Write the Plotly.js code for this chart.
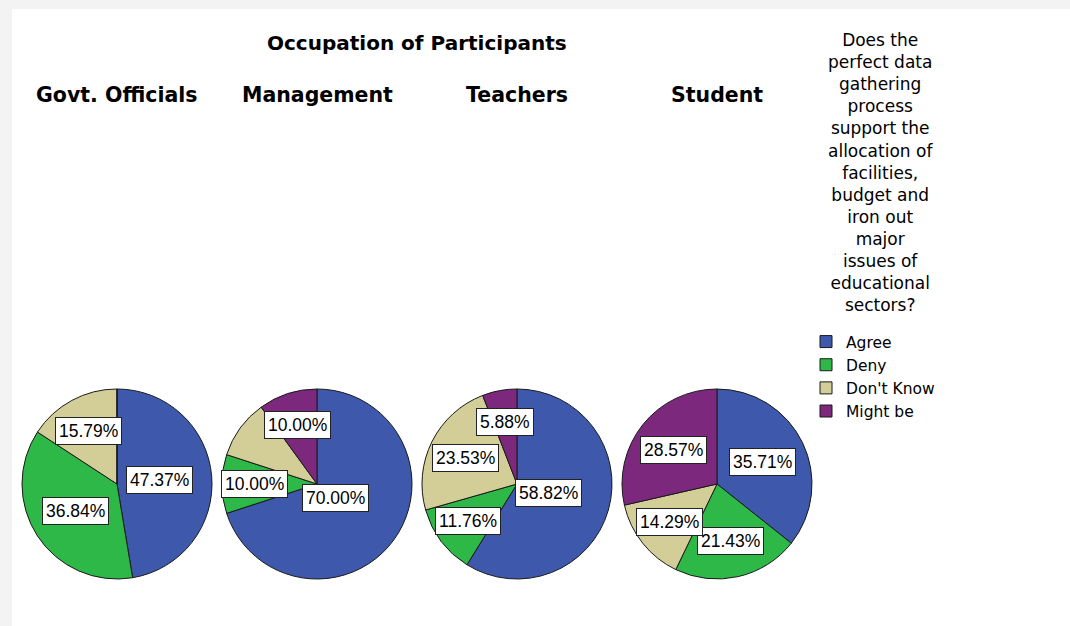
<!DOCTYPE html>
<html>
<head>
<meta charset="utf-8">
<script src="https://cdn.plot.ly/plotly-3.0.1.min.js"></script>
<style>
  html, body { margin:0; padding:0; background:#fff; }
  #chart { width:1070px; height:626px; }
</style>
</head>
<body>
<div id="chart"></div>
<script>
// answers (legend order) and groups
const answers = ['Agree', 'Deny', "Don't Know", 'Might be'];
const groups = ['Govt. Officials', 'Management', 'Teachers', 'Student'];
// percentages per group, in answer order
const govtVals = [47.37, 36.84, 15.79, 0];
const mgmtVals = [70.00, 10.00, 10.00, 10.00];
const teachVals = [58.82, 11.76, 23.53, 5.88];
const studVals = [35.71, 21.43, 14.29, 28.57];
const groupVals = [govtVals, mgmtVals, teachVals, studVals];
// labels SPSS dropped (overlap)
const hiddenLabels = { 1: [2] };

const colors = ['#3e58ac', '#2eb848', '#d3ce97', '#7c287d'];
const W = 1070, H = 626;
const centersX = [117, 317, 517, 717], centerY = 484, R = 95;
const legendTitle = 'Does the<br>perfect data<br>gathering<br>process<br>support the<br>allocation of<br>facilities,<br>budget and<br>iron out<br>major<br>issues of<br>educational<br>sectors?';

const traces = [];
const annotations = [];

groupVals.forEach(function(vals, g){
  const cx = centersX[g];
  traces.push({
    type: 'pie', labels: answers, values: vals, sort: false, direction: 'clockwise', rotation: 0,
    marker: { colors: colors, line: { color: '#1a1a1a', width: 1 } },
    textinfo: 'none', hoverinfo: 'label+percent',
    domain: { x: [(cx - R) / W, (cx + R) / W], y: [(H - centerY - R) / H, (H - centerY + R) / H] }
  });
  // label boxes at the slice centroids
  const total = vals.reduce(function(a, b){ return a + b; }, 0);
  let cum = 0;
  vals.forEach(function(v, i){
    const frac = v / total;
    const mid = (cum + frac / 2) * 2 * Math.PI;
    cum += frac;
    if (v <= 0 || (hiddenLabels[g] || []).indexOf(i) >= 0) return;
    const a = frac * Math.PI;
    const d = 2 * R * Math.sin(a) / (3 * a);
    const px = cx + d * Math.sin(mid), py = centerY - d * Math.cos(mid);
    annotations.push({
      xref: 'paper', yref: 'paper', x: px / W, y: 1 - py / H, xanchor: 'center', yanchor: 'middle',
      showarrow: false, text: v.toFixed(2) + '%',
      font: { family: 'Liberation Sans, Arial, sans-serif', size: 17.5, color: '#000' },
      bgcolor: '#fff', bordercolor: '#222', borderwidth: 1, borderpad: 3
    });
  });
  annotations.push({
    xref: 'paper', yref: 'paper', x: cx / W, y: 1 - 95 / H, xanchor: 'center', yanchor: 'middle',
    showarrow: false, text: '<b>' + groups[g] + '</b>',
    font: { family: 'DejaVu Sans, sans-serif', size: 20.5, color: '#000' }
  });
});

annotations.push({
  xref: 'paper', yref: 'paper', x: 417 / W, y: 1 - 43 / H, xanchor: 'center', yanchor: 'middle',
  showarrow: false, text: '<b>Occupation of Participants</b>',
  font: { family: 'DejaVu Sans, sans-serif', size: 20, color: '#000' }
});
annotations.push({
  xref: 'paper', yref: 'paper', x: 880 / W, y: 1 - 28 / H, xanchor: 'center', yanchor: 'top',
  showarrow: false, align: 'center', text: legendTitle,
  font: { family: 'DejaVu Sans, sans-serif', size: 17, color: '#000' }
});

const layout = {
  width: W, height: H,
  margin: { l: 0, r: 0, t: 0, b: 0 },
  paper_bgcolor: '#fff',
  showlegend: true,
  legend: {
    x: 806 / W, y: 1 - 325 / H, xanchor: 'left', yanchor: 'top',
    font: { family: 'DejaVu Sans, sans-serif', size: 15.5, color: '#000' },
    bgcolor: 'rgba(0,0,0,0)', traceorder: 'normal', itemwidth: 30
  },
  annotations: annotations,
  shapes: [
    { type: 'rect', xref: 'paper', yref: 'paper', x0: 0, x1: 1, y0: 1 - 9 / H, y1: 1, fillcolor: '#f3f3f3', line: { width: 0 }, layer: 'below' },
    { type: 'rect', xref: 'paper', yref: 'paper', x0: 0, x1: 12 / W, y0: 0, y1: 1, fillcolor: '#f3f3f3', line: { width: 0 }, layer: 'below' }
  ]
};

Plotly.newPlot('chart', traces, layout, { displayModeBar: false, staticPlot: true });
</script>
</body>
</html>
